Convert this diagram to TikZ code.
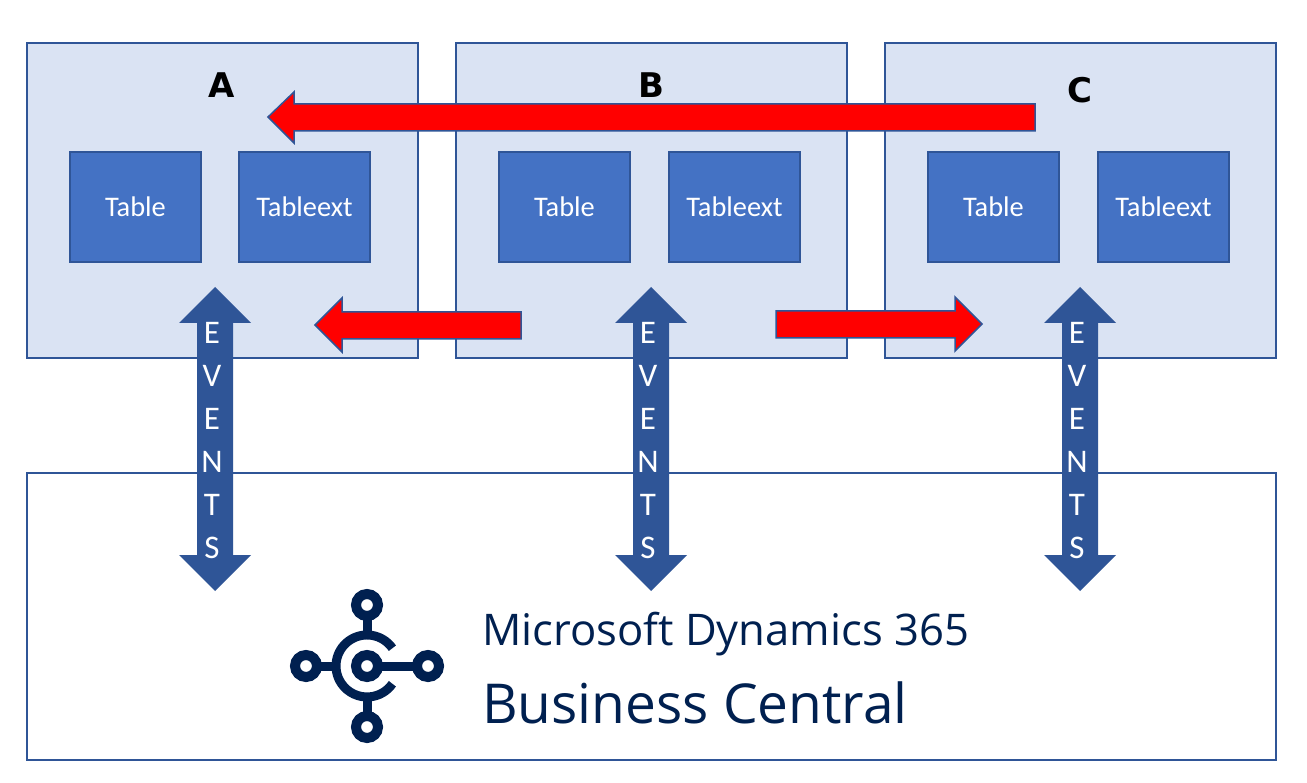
\documentclass[tikz,border=0pt]{standalone}
\usepackage{fontspec}
\setmainfont{Carlito}
\newfontfamily\headfont{DejaVu Sans}
\newfontfamily\logofont{Open Sans}
\definecolor{panelfill}{HTML}{DAE3F3}
\definecolor{panelline}{HTML}{2F5597}
\definecolor{tablefill}{HTML}{4472C4}
\definecolor{navy}{HTML}{002050}
\tikzset{
  panel/.style={draw=panelline,line width=1.5pt,fill=panelfill},
  basebox/.style={draw=panelline,line width=1.5pt,fill=white},
  tablebox/.style={draw=panelline,line width=1.2pt,fill=tablefill,text=white,minimum width=131pt,minimum height=110pt,inner sep=0pt,font=\fontsize{28.4}{30}\selectfont},
  head/.style={font=\headfont\fontsize{34}{36}\selectfont\bfseries,inner sep=0pt},
  redarrow/.style={draw=panelline,line width=1.5pt,fill=red,line join=miter},
  eventarrow/.style={fill=panelline,draw=none},
  evt/.style={text=white,font=\fontsize{33}{33}\selectfont,inner sep=0pt},
  logoline/.style={draw=navy,line width=9pt},
  logohub/.style={draw=navy,line width=10pt,fill=white},
  logotext/.style={text=navy,anchor=west,inner sep=0pt},
}
\begin{document}
\begin{tikzpicture}[x=1pt,y=-1pt]
\useasboundingbox (0,0) rectangle (1307,783);
\fill[white] (0,0) rectangle (1307,783);
% panels
\node[panel,minimum width=391pt,minimum height=315pt,inner sep=0pt] (pa) at (222.5,200.5) {};
\node[panel,minimum width=391pt,minimum height=315pt,inner sep=0pt] (pb) at (651.5,200.5) {};
\node[panel,minimum width=391pt,minimum height=315pt,inner sep=0pt] (pc) at (1080.5,200.5) {};
\node[basebox,minimum width=1249pt,minimum height=287pt,inner sep=0pt] (base) at (651.5,616.5) {};
% tables
\node[tablebox] (ta) at (135.5,207) {Table};
\node[tablebox] (xa) at (304.5,207) {Tableext};
\node[tablebox] (tb) at (564.5,207) {Table};
\node[tablebox] (xb) at (734.5,207) {Tableext};
\node[tablebox] (tc) at (993.5,207) {Table};
\node[tablebox] (xc) at (1163.5,207) {Tableext};
% headings
\node[head] (ha) at (222,85) {A};
\node[head] (hb) at (651,85) {B};
\node[head] (hc) at (1080,90) {C};
% red arrows
\draw[redarrow] (1035,104) -- (294,104) -- (294,92) -- (268,117) -- (294,143) -- (294,131) -- (1035,131) -- cycle;
\draw[redarrow] (521,312) -- (342,312) -- (342,298) -- (315,325) -- (342,352) -- (342,339) -- (521,339) -- cycle;
\draw[redarrow] (776,311) -- (955,311) -- (955,297) -- (982,324) -- (955,351) -- (955,338) -- (776,338) -- cycle;
% event arrows
\foreach \cx/\nm in {215/a,651/b,1080/c}{
  \fill[eventarrow] (\cx,287) -- (\cx+36,323) -- (\cx+18,323) -- (\cx+18,555) -- (\cx+36,555) -- (\cx,591) -- (\cx-36,555) -- (\cx-18,555) -- (\cx-18,323) -- (\cx-36,323) -- cycle;
}
\foreach \cx/\nm in {212/a,648/b,1077/c}{
  \node[evt] (e1\nm) at (\cx,333) {E};
  \node[evt] (e2\nm) at (\cx,376) {V};
  \node[evt] (e3\nm) at (\cx,419) {E};
  \node[evt] (e4\nm) at (\cx,462) {N};
  \node[evt] (e5\nm) at (\cx,505) {T};
  \node[evt] (e6\nm) at (\cx,548) {S};
}
% logo
\draw[logoline] (367,616) -- (367,635);
\draw[logoline] (367,697) -- (367,716);
\draw[logoline] (317,666) -- (336,666);
\draw[logoline] (378,666) -- (417,666);
\draw[logoline,line cap=butt] (392.4,648.2) arc[start angle=-35,end angle=-325,radius=31];
\foreach \px/\py in {367/605,367/727,306/666,428/666,367/666}{
  \draw[logohub] (\px,\py) circle[radius=11];
}
\node[logotext,font=\logofont\fontsize{43.6}{48}\selectfont] (l1) at (482,634) {Microsoft Dynamics 365};
\node[logotext,font=\logofont\fontsize{55}{56}\selectfont] (l2) at (482,703) {Business Central};
\end{tikzpicture}
\end{document}
